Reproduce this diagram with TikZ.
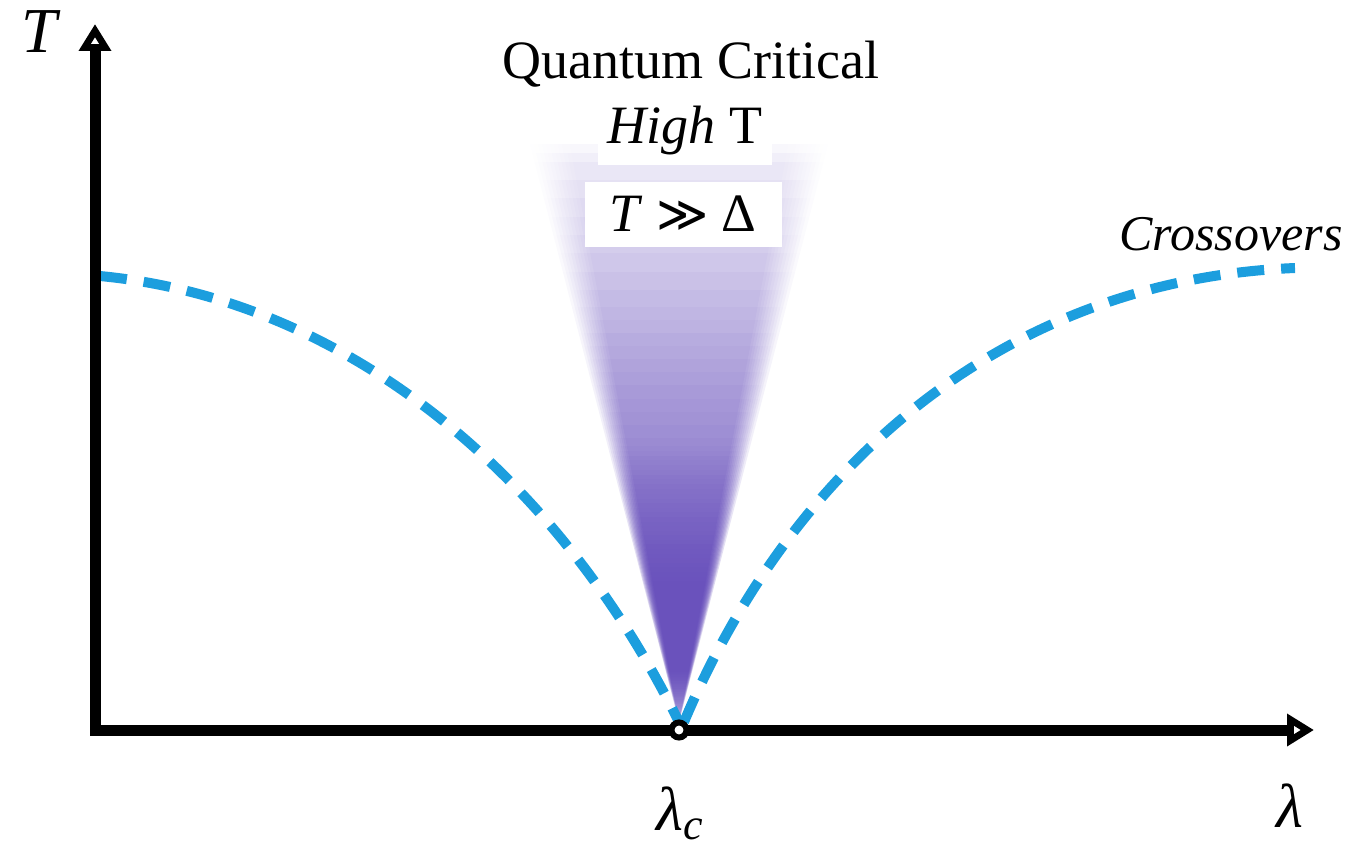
\documentclass[tikz,border=0pt]{standalone}
\usepackage{fontspec}
\setmainfont{Liberation Serif}
\newfontfamily\symfont{DejaVu Sans}
\usetikzlibrary{arrows.meta,fadings}
\definecolor{crossblue}{RGB}{28,158,222}
\definecolor{fanpurple}{RGB}{92,66,182}
% path box maps onto 25bp..75bp
\pgfdeclareverticalshading{fanshade}{100bp}{color(0bp)=(black!85); color(25bp)=(black!85); color(29.5bp)=(white); color(37bp)=(white); color(44bp)=(black!35); color(49bp)=(black!59); color(61bp)=(black!80); color(73bp)=(black!95); color(75bp)=(black); color(100bp)=(black)}
\pgfdeclarefading{fanfade}{\pgfuseshading{fanshade}}
\tikzset{
  axis/.style={line width=11pt,{Triangle[open,length=27pt,width=31pt]}-{Triangle[open,length=27pt,width=31pt]}},
  crossline/.style={crossblue,line width=10pt,dash pattern=on 27pt off 17pt},
  whitebox/.style={fill=white,inner sep=0pt},
}
\begin{document}
\begin{tikzpicture}[x=1pt,y=-1pt,every node/.style={inner sep=1pt}]
\useasboundingbox (0,0) rectangle (1353,851);
\coordinate (O) at (95,730);
\coordinate (Ttop) at (95,24);
\coordinate (Lend) at (1314,730);
\coordinate (Lc) at (679,730);
\coordinate (A) at (679,722);
% critical fan
\foreach \w in {110,114,...,150}
  \fill[fanpurple,opacity=0.2,path fading=fanfade] (A) -- ({679-\w},140) -- ({679+\w},140) -- cycle;
% crossovers
\draw[crossline] (100,276) .. controls (350,300) and (560,480) .. (A);
\draw[crossline] (684,722) .. controls (790,470) and (1000,280) .. (1295,268);
% axes
\draw[axis] (Ttop) -- (O) -- (Lend);
\node[circle,draw,line width=6pt,fill=white,minimum size=15pt,inner sep=0pt] (crit) at (Lc) {};
\node[font=\fontsize{64}{70}\selectfont\itshape,anchor=base] (Tlab) at (39,53) {T};
\node[font=\fontsize{62}{70}\selectfont\itshape,anchor=base] (llab) at (1290,827) {λ};
\node[font=\fontsize{62}{70}\selectfont\itshape,anchor=base west] (lclab) at (655,830) {λ\raisebox{-9pt}{\fontsize{44}{50}\selectfont c}};
% labels
\node[font=\fontsize{54}{60}\selectfont,anchor=base] (qc) at (691,78) {Quantum Critical};
\node[whitebox,font=\fontsize{54}{60}\selectfont,minimum width=174pt,minimum height=68pt] (high) at (685,131) {\textit{High} T};
\node[whitebox,font=\fontsize{54}{60}\selectfont,minimum width=197pt,minimum height=65pt] (gap) at (683,214) {\textit{T} {\symfont\fontsize{50}{56}\selectfont ≫} Δ};
\node[font=\fontsize{50}{56}\selectfont\itshape,anchor=base] (cross) at (1231,250) {Crossovers};
\end{tikzpicture}
\end{document}
